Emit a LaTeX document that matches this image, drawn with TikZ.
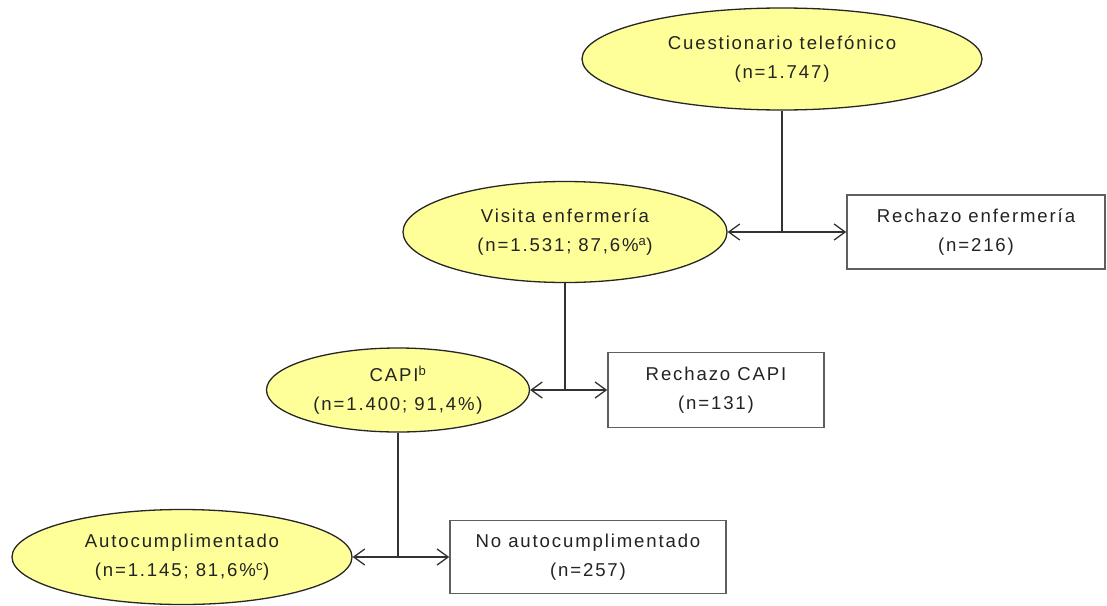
\documentclass[tikz,border=0pt]{standalone}
\usepackage{fontspec}
\setmainfont{Liberation Sans}[LetterSpace=10]
\usetikzlibrary{shapes.geometric,arrows.meta}
\definecolor{ellfill}{RGB}{255,255,153}
\definecolor{linecol}{RGB}{50,50,50}
\definecolor{boxcol}{RGB}{95,95,95}
\definecolor{txtcol}{RGB}{35,35,35}
\tikzset{
  base/.style={align=center, text=txtcol, inner sep=0pt,
    font=\fontsize{18.6}{29}\selectfont},
  ell/.style={base, ellipse, draw=black!85, fill=ellfill, line width=1.3pt},
  boxnode/.style={base, rectangle, draw=boxcol, fill=white, line width=1.6pt},
  conn/.style={draw=linecol, line width=1.6pt},
  arr/.style={conn, -{Straight Barb[length=11pt,width=16pt,line width=1.3pt]}}
}
\begin{document}
\begin{tikzpicture}[x=1pt,y=-1pt]
\useasboundingbox (0,0) rectangle (1107,605);
\node[ell, minimum width=400pt, minimum height=102pt] (tel) at (782,59)
  {Cuestionario telefónico\\(n=1.747)};
\node[ell, minimum width=324pt, minimum height=101pt] (vis) at (565,232)
  {Visita enfermería\\(n=1.531; 87,6\%\textsuperscript{a})};
\node[boxnode, minimum width=258pt, minimum height=74pt] (rech1) at (976,232)
  {Rechazo enfermería\\(n=216)};
\node[ell, minimum width=263pt, minimum height=84pt] (capi) at (398,390)
  {CAPI\textsuperscript{b}\\(n=1.400; 91,4\%)};
\node[boxnode, minimum width=216pt, minimum height=75pt] (rech2) at (716,390)
  {Rechazo CAPI\\(n=131)};
\node[ell, minimum width=340pt, minimum height=95pt] (auto) at (182,557)
  {Autocumplimentado\\(n=1.145; 81,6\%\textsuperscript{c})};
\node[boxnode, minimum width=276pt, minimum height=73pt] (noauto) at (588,557)
  {No autocumplimentado\\(n=257)};
\coordinate (j1) at (tel.south|-vis.east);
\coordinate (j2) at (vis.south|-capi.east);
\coordinate (j3) at (capi.south|-auto.east);
\draw[conn] (tel.south) -- (j1);
\draw[arr] (j1) -- (vis.east);
\draw[arr] (j1) -- (rech1.west);
\draw[conn] (vis.south) -- (j2);
\draw[arr] (j2) -- (capi.east);
\draw[arr] (j2) -- (rech2.west);
\draw[conn] (capi.south) -- (j3);
\draw[arr] (j3) -- (auto.east);
\draw[arr] (j3) -- (noauto.west);
\end{tikzpicture}
\end{document}
